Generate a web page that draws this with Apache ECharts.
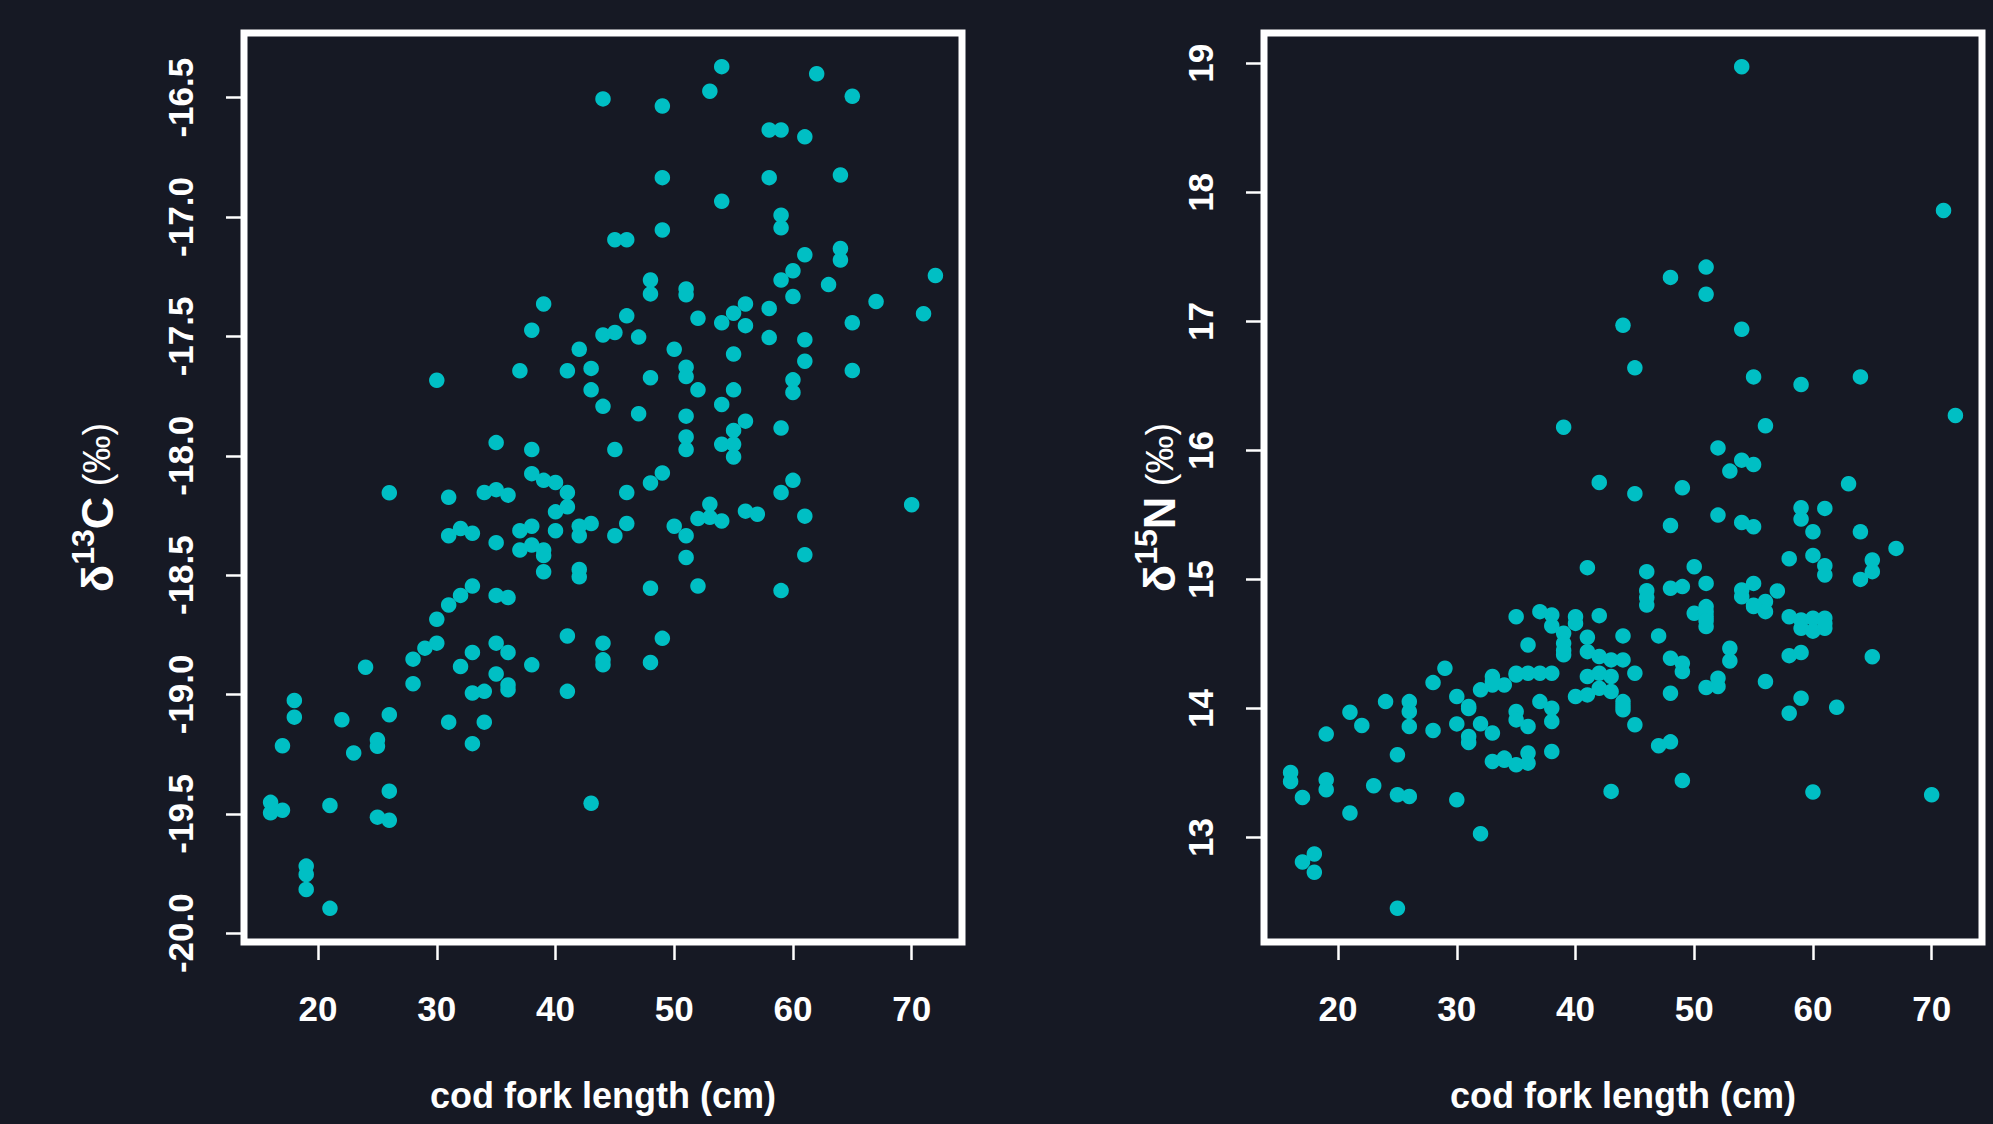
<!DOCTYPE html>
<html>
<head>
<meta charset="utf-8">
<script src="https://cdn.jsdelivr.net/npm/echarts@6/dist/echarts.min.js"></script>
<style>
html,body{margin:0;padding:0;background:#161924;}
#c{width:1993px;height:1124px;}
</style>
</head>
<body>
<div id="c"></div>
<script>
// x tick labels (cod fork length, cm)
const xTicks = [20, 30, 40, 50, 60, 70];
// y tick labels
const c13Ticks = [-20.0, -19.5, -19.0, -18.5, -18.0, -17.5, -17.0, -16.5];
const n15Ticks = [13, 14, 15, 16, 17, 18, 19];

// delta13C vs fork length
const c13Data = [
[54,-16.37],[62,-16.40],[44,-16.505],[49,-16.535],[53,-16.473],[65,-16.494],[58,-16.635],[59,-16.635],[61,-16.664],[49,-16.835],
[58,-16.835],[64,-16.824],[54,-16.934],[59,-16.992],[59,-17.045],[49,-17.054],[45,-17.095],[46,-17.095],[64,-17.132],
[61,-17.158],[64,-17.18],[48,-17.264],[48,-17.322],[51,-17.301],[51,-17.326],[60,-17.225],[59,-17.264],[63,-17.283],[60,-17.333],
[67,-17.354],[39,-17.364],[46,-17.414],[52,-17.424],[56,-17.364],[55,-17.403],[54,-17.443],[56,-17.455],[58,-17.383],[58,-17.505],
[65,-17.443],[61,-17.514],[61,-17.604],[65,-17.643],[38,-17.474],[44,-17.494],[45,-17.484],[47,-17.503],[42,-17.554],[50,-17.554],
[55,-17.574],[37,-17.644],[41,-17.644],[43,-17.634],[48,-17.673],[51,-17.629],[51,-17.668],[30,-17.684],[43,-17.724],[52,-17.724],
[55,-17.724],[60,-17.682],[60,-17.735],[44,-17.793],[47,-17.824],[51,-17.834],[54,-17.785],[56,-17.855],[55,-17.894],[59,-17.884],
[51,-17.921],[51,-17.974],[54,-17.952],[55,-17.952],[55,-18.005],[35,-17.945],[38,-17.974],[45,-17.974],[38,-18.075],[39,-18.103],
[40,-18.112],[41,-18.154],[41,-18.214],[40,-18.235],[31,-18.174],[34,-18.154],[35,-18.142],[36,-18.165],[46,-18.154],[48,-18.114],
[49,-18.072],[60,-18.103],[59,-18.154],[53,-18.203],[52,-18.263],[53,-18.258],[54,-18.273],[56,-18.232],[57,-18.245],[61,-18.253],
[50,-18.295],[51,-18.335],[51,-18.426],[61,-18.415],[46,-18.284],[45,-18.335],[43,-18.284],[42,-18.295],[42,-18.335],[40,-18.314],
[38,-18.295],[37,-18.314],[38,-18.374],[37,-18.395],[39,-18.395],[39,-18.418],[39,-18.486],[42,-18.476],[42,-18.507],[35,-18.364],
[31,-18.335],[32,-18.305],[33,-18.325],[48,-18.555],[52,-18.546],[59,-18.565],[33,-18.546],[32,-18.585],[31,-18.625],[30,-18.685],
[35,-18.585],[36,-18.594],[41,-18.755],[44,-18.785],[44,-18.855],[44,-18.876],[49,-18.765],[48,-18.866],[28,-18.852],[29,-18.806],
[30,-18.785],[33,-18.824],[32,-18.883],[35,-18.785],[36,-18.824],[38,-18.876],[28,-18.955],[35,-18.914],[36,-18.96],[36,-18.98],
[33,-18.994],[34,-18.987],[41,-18.987],
[72,-17.245],[71,-17.405],[70,-18.205],[26,-18.155],[24,-18.886],
[18,-19.025],[18,-19.095],[17,-19.215],[22,-19.106],[23,-19.245],[25,-19.19],[25,-19.217],[26,-19.085],[26,-19.405],[31,-19.116],
[34,-19.116],[33,-19.206],[16,-19.452],[16,-19.496],[17,-19.485],[21,-19.465],[25,-19.514],[26,-19.527],[43,-19.456],[19,-19.719],
[19,-19.754],[19,-19.817],[21,-19.896]
];

// delta15N vs fork length
const n15Data = [
[54,18.974],[71,17.86],[51,17.421],[48,17.341],[51,17.21],
[54,16.939],[55,16.570],[59,16.511],[64,16.570],[72,16.271],[56,16.191],[52,16.020],[54,15.925],[55,15.891],[53,15.840],
[49,15.711],[63,15.742],[48,15.419],[52,15.499],[54,15.442],[55,15.409],[59,15.556],[59,15.468],[61,15.551],[60,15.370],
[64,15.370],[67,15.241],[58,15.161],[60,15.187],[61,15.107],[61,15.035],[65,15.151],[65,15.061],[64,15.001],[46,15.061],
[46,14.913],[46,14.802],[50,15.099],[48,14.932],[49,14.945],[51,14.970],[47,14.563],[54,14.919],[54,14.867],[55,14.970],
[57,14.911],[55,14.790],[56,14.829],[56,14.751],[50,14.738],[51,14.790],[51,14.712],[51,14.635],[58,14.712],[59,14.686],
[59,14.622],[60,14.70],[60,14.60],[61,14.70],[61,14.622],[53,14.467],[53,14.369],[48,14.390],[49,14.351],[49,14.287],
[52,14.235],[52,14.171],[51,14.163],[58,14.41],[59,14.434],[65,14.402],[56,14.209],[48,14.119],[59,14.08],[62,14.01],[58,13.964],
[44,16.970],[45,16.640],[39,16.180],[42,15.752],[45,15.665],
[41,15.092],[36,14.493],[35,14.712],[37,14.751],[38,14.725],[38,14.640],[39,14.583],[39,14.506],[39,14.416],[40,14.712],
[40,14.660],[42,14.720],[41,14.552],[41,14.441],[44,14.563],[42,14.403],[43,14.377],[44,14.377],[45,14.274],[41,14.248],
[42,14.274],[43,14.248],[40,14.093],[41,14.106],[42,14.158],[43,14.132],[35,14.274],[36,14.274],[37,14.274],[38,14.274],
[33,14.248],[33,14.183],[34,14.183],[32,14.145],[29,14.312],[28,14.201],[30,14.093],
[24,14.054],[26,14.054],[26,13.977],[26,13.861],[21,13.972],[22,13.869],[19,13.802],[28,13.830],[30,13.881],[31,14.016],
[32,13.882],[33,13.81],[31,13.784],[31,13.737],[35,13.977],[35,13.912],[36,13.861],[37,14.054],[38,14.003],[38,13.90],
[44,14.054],[44,13.99],[45,13.874],[38,13.667],[33,13.59],[34,13.616],[35,13.564],[36,13.655],[36,13.577],[25,13.642],
[16,13.505],[16,13.435],[19,13.448],[19,13.371],[17,13.311],[23,13.402],[25,13.332],[26,13.319],[30,13.293],[21,13.190],
[32,13.030],[17,12.811],[18,12.873],[18,12.731],[25,12.452],[43,13.358],
[60,13.353],[70,13.332],[49,13.442],[47,13.712],[48,13.742],
[31,14.0],[33,14.21],[34,13.60],[35,14.26],[39,14.45],[44,14.02],[46,14.86],[51,14.75],[51,14.68],[55,14.80],[61,14.66]
];

const WHITE = '#ffffff';
const PT = '#00BFC4';
const FONT = '"Liberation Sans", Arial, Helvetica, sans-serif';

function xAxisCfg(gi) {
  return {
    type: 'value', gridIndex: gi, min: 13.76, max: 74.24,
    axisLine: {show: false},
    splitLine: {show: false},
    axisTick: {show: true, inside: false, length: 18, customValues: xTicks,
      lineStyle: {color: WHITE, width: 2.5}},
    axisLabel: {show: true, customValues: xTicks, color: WHITE, fontSize: 35,
      fontWeight: 'bold', fontFamily: FONT, margin: 49},
    name: 'cod fork length (cm)', nameLocation: 'middle', nameGap: 135,
    nameTextStyle: {color: WHITE, fontSize: 36, fontWeight: 'bold', fontFamily: FONT}
  };
}

function yName(sym, gap) {
  return {
    name: '{d|δ}{s|' + sym[0] + '}{d|' + sym[1] + '}{p| (‰)}',
    nameLocation: 'middle', nameGap: gap, nameRotate: 90,
    nameTextStyle: {color: WHITE, fontFamily: FONT, padding: [0, 40, 0, 0],
      rich: {
        d: {fontSize: 45, fontWeight: 'bold', color: WHITE, fontFamily: FONT},
        s: {fontSize: 32, fontWeight: 'bold', color: WHITE, fontFamily: FONT, padding: [0, 0, 28, 0]},
        p: {fontSize: 38, fontWeight: 'normal', color: WHITE, fontFamily: FONT}
      }}
  };
}

const chart = echarts.init(document.getElementById('c'), null, {renderer: 'svg'});
chart.setOption({
  backgroundColor: '#161924',
  animation: false,
  grid: [
    {left: 244, top: 33, width: 718, height: 909, show: true, borderColor: WHITE, borderWidth: 7, backgroundColor: 'transparent'},
    {left: 1264, top: 33, width: 718, height: 909, show: true, borderColor: WHITE, borderWidth: 7, backgroundColor: 'transparent'}
  ],
  xAxis: [xAxisCfg(0), xAxisCfg(1)],
  yAxis: [
    Object.assign({
      type: 'value', gridIndex: 0, min: -20.037, max: -16.229,
      axisLine: {show: false}, splitLine: {show: false},
      axisTick: {show: true, length: 18, customValues: c13Ticks, lineStyle: {color: WHITE, width: 2.5}},
      axisLabel: {show: true, customValues: c13Ticks, rotate: 90, color: WHITE, fontSize: 35,
        fontWeight: 'bold', fontFamily: FONT, margin: 46, formatter: v => v.toFixed(1)}
    }, yName(['13', 'C'], 117)),
    Object.assign({
      type: 'value', gridIndex: 1, min: 12.191, max: 19.235,
      axisLine: {show: false}, splitLine: {show: false},
      axisTick: {show: true, length: 18, customValues: n15Ticks, lineStyle: {color: WHITE, width: 2.5}},
      axisLabel: {show: true, customValues: n15Ticks, rotate: 90, color: WHITE, fontSize: 35,
        fontWeight: 'bold', fontFamily: FONT, margin: 46}
    }, yName(['15', 'N'], 74))
  ],
  series: [
    {type: 'scatter', xAxisIndex: 0, yAxisIndex: 0, data: c13Data, symbol: 'circle', symbolSize: 15.5,
      itemStyle: {color: PT, opacity: 1}, silent: true},
    {type: 'scatter', xAxisIndex: 1, yAxisIndex: 1, data: n15Data, symbol: 'circle', symbolSize: 15.5,
      itemStyle: {color: PT, opacity: 1}, silent: true}
  ]
});
</script>
</body>
</html>
